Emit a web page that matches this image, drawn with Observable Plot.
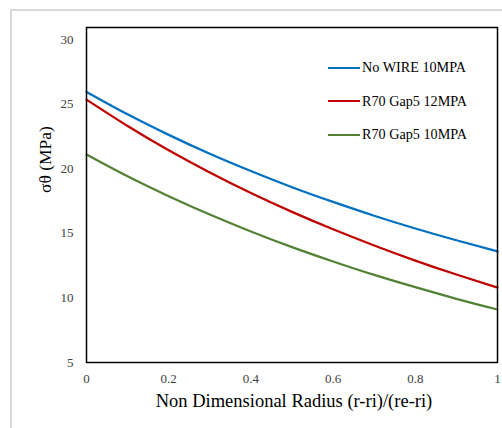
<!DOCTYPE html>
<html>
<head>
<meta charset="utf-8">
<script src="https://cdn.jsdelivr.net/npm/d3@7"></script>
<script src="https://cdn.jsdelivr.net/npm/@observablehq/plot@0.6"></script>
<style>
  html, body { margin: 0; padding: 0; background: #fff; }
  #wrap { position: relative; width: 502px; height: 428px; overflow: hidden; font-family: "Liberation Serif", "Times New Roman", serif; }
  #outer { position: absolute; left: 10px; top: 9px; width: 600px; height: 600px; border: 2px solid #d9d9d9; box-sizing: border-box; }
  #chart { position: absolute; left: 0; top: 0; }
  #legend { position: absolute; left: 328px; top: 51px; font-size: 14.2px; color: #000; }
  .item { display: flex; align-items: center; height: 33.5px; margin: 0; }
  .swatch { width: 32px; height: 0; border-top: 2.5px solid; margin-right: 2px; }
</style>
</head>
<body>
<div id="wrap">
  <div id="outer"></div>
  <div id="chart"></div>
  <div id="legend"></div>
</div>
<script>
const radius = [0, 0.1, 0.2, 0.3, 0.4, 0.5, 0.6, 0.7, 0.8, 0.9, 1.0];
const noWire10 = [25.95, 24.21, 22.62, 21.16, 19.82, 18.57, 17.43, 16.36, 15.37, 14.46, 13.60];
const r70Gap5_12 = [25.35, 23.31, 21.43, 19.71, 18.12, 16.66, 15.31, 14.06, 12.89, 11.81, 10.80];
const r70Gap5_10 = [21.10, 19.41, 17.87, 16.45, 15.14, 13.93, 12.82, 11.78, 10.83, 9.93, 9.10];
const seriesNames = ["No WIRE 10MPA", "R70 Gap5 12MPA", "R70 Gap5 10MPA"];
const seriesColors = ["#0070C0", "#C00000", "#548235"];
const xTicks = [0, 0.2, 0.4, 0.6, 0.8, 1];
const yTicks = [5, 10, 15, 20, 25, 30];

const allSeries = [noWire10, r70Gap5_12, r70Gap5_10];
const rows = [];
allSeries.forEach((vals, i) => vals.forEach((v, j) => rows.push({x: radius[j], y: v, s: seriesNames[i]})));

const chart = Plot.plot({
  width: 502,
  height: 428,
  marginLeft: 86,
  marginTop: 27,
  marginRight: 5,
  marginBottom: 66,
  style: {fontFamily: "Liberation Serif, Times New Roman, serif", background: "transparent"},
  x: {domain: [0, 1], label: null},
  y: {domain: [5, 30.93], label: null},
  color: {domain: seriesNames, range: seriesColors},
  marks: [
    Plot.axisX({ticks: xTicks, tickSize: 0, tickPadding: 11, fontSize: 13, fill: "#404040", label: null, tickFormat: d => String(d)}),
    Plot.axisY({ticks: yTicks, tickSize: 0, tickPadding: 13, fontSize: 13, fill: "#404040", label: null}),
    Plot.line(rows, {x: "x", y: "y", z: "s", stroke: "s", strokeWidth: 2.25, curve: "natural"}),
    Plot.frame({stroke: "#000", strokeWidth: 1.5}),
    Plot.text(["Non Dimensional Radius (r-ri)/(re-ri)"], {frameAnchor: "bottom", dx: 2, dy: 44, fontSize: 18.5, fill: "#000", text: d => d}),
    Plot.text(["σθ (MPa)"], {frameAnchor: "left", dx: -41, dy: -2, rotate: -90, fontSize: 17.5, fill: "#000", text: d => d})
  ]
});
document.getElementById("chart").appendChild(chart);

const legend = document.getElementById("legend");
seriesNames.forEach((n, i) => {
  const it = document.createElement("div");
  it.className = "item";
  const sw = document.createElement("span");
  sw.className = "swatch";
  sw.style.borderTopColor = seriesColors[i];
  const t = document.createElement("span");
  t.textContent = n;
  it.appendChild(sw); it.appendChild(t);
  legend.appendChild(it);
});
</script>
</body>
</html>
